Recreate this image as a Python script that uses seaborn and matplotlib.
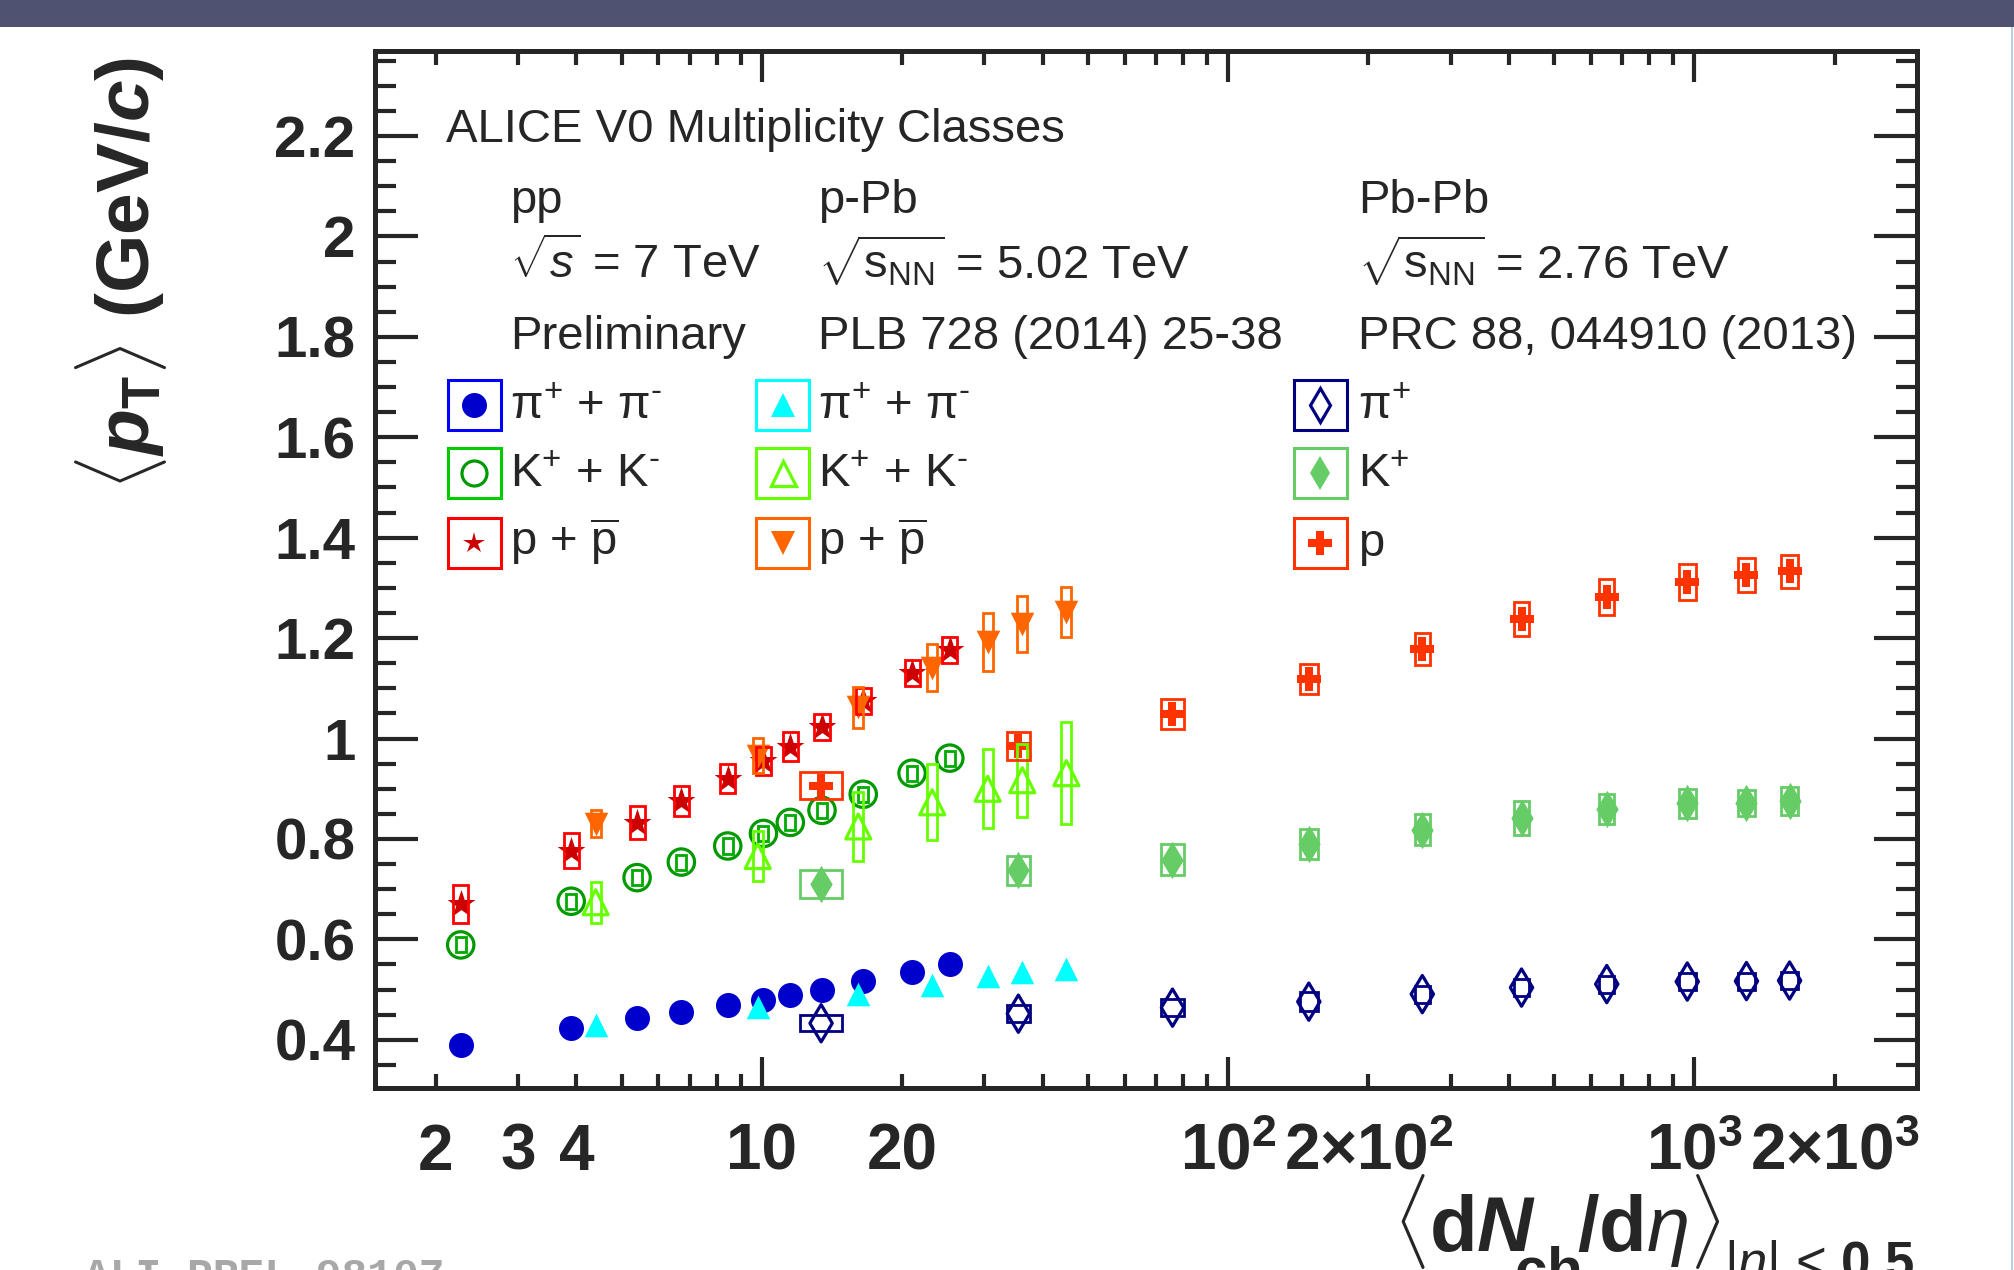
import numpy as np
import matplotlib
matplotlib.use("Agg")
import matplotlib.pyplot as plt
import matplotlib.transforms as mtransforms
from matplotlib.markers import MarkerStyle
from matplotlib.patches import Rectangle
from matplotlib.ticker import FixedLocator, NullFormatter
import seaborn as sns

# pp, sqrt(s) = 7 TeV (preliminary), V0 multiplicity classes
pp_dndeta = [2.26, 3.90, 5.40, 6.72, 8.45, 10.08, 11.51, 13.46, 16.5, 21.0, 25.3]
pp_pi = [0.390, 0.423, 0.443, 0.455, 0.470, 0.480, 0.490, 0.500, 0.518, 0.535, 0.550]
pp_k = [0.589, 0.676, 0.723, 0.754, 0.786, 0.811, 0.833, 0.857, 0.889, 0.931, 0.961]
pp_k_sys = 0.015
pp_p = [0.670, 0.777, 0.832, 0.876, 0.920, 0.955, 0.984, 1.023, 1.074, 1.131, 1.177]
pp_p_sys = [0.038, 0.034, 0.033, 0.030, 0.029, 0.028, 0.029, 0.026, 0.026, 0.026, 0.026]

# p-Pb, sqrt(sNN) = 5.02 TeV
ppb_dndeta = [4.4, 9.8, 16.1, 23.2, 30.5, 36.2, 45.0]
ppb_pi = [0.430, 0.465, 0.491, 0.510, 0.527, 0.535, 0.542]
ppb_k = [0.674, 0.766, 0.825, 0.873, 0.900, 0.917, 0.931]
ppb_k_sys = [0.041, 0.049, 0.068, 0.076, 0.079, 0.073, 0.101]
ppb_p = [0.830, 0.966, 1.062, 1.141, 1.193, 1.228, 1.252]
ppb_p_sys = [0.027, 0.035, 0.040, 0.047, 0.058, 0.056, 0.049]

# Pb-Pb, sqrt(sNN) = 2.76 TeV
pbpb_dndeta = [13.4, 35.5, 76.0, 149.0, 261.0, 426.0, 649.0, 966.0, 1294.0, 1601.0]
pbpb_dndeta_err = [0.11, 0.06, 0.06, 0.045, 0.038, 0.038, 0.038, 0.042, 0.042, 0.042]
pbpb_pi = [0.433, 0.452, 0.464, 0.476, 0.491, 0.504, 0.511, 0.516, 0.517, 0.518]
pbpb_pi_sys = [0.016, 0.017, 0.017, 0.019, 0.017, 0.017, 0.017, 0.017, 0.017, 0.017]
pbpb_k = [0.710, 0.738, 0.759, 0.790, 0.818, 0.842, 0.860, 0.871, 0.872, 0.876]
pbpb_k_sys = [0.028, 0.029, 0.030, 0.030, 0.031, 0.034, 0.030, 0.029, 0.026, 0.028]
pbpb_p = [0.906, 0.986, 1.049, 1.118, 1.178, 1.238, 1.282, 1.312, 1.325, 1.333]
pbpb_p_sys = [0.027, 0.028, 0.030, 0.030, 0.032, 0.034, 0.035, 0.036, 0.034, 0.033]

y_major = [0.4, 0.6, 0.8, 1.0, 1.2, 1.4, 1.6, 1.8, 2.0, 2.2]
y_labels = ["0.4", "0.6", "0.8", "1", "1.2", "1.4", "1.6", "1.8", "2", "2.2"]
x_label_pos = [2, 3, 4, 10, 20, 100, 200, 1000, 2000]
x_label_txt = ["2", "3", "4", "10", "20", r"$\mathbf{10^{2}}$", r"$\mathbf{2{\times}10^{2}}$",
               r"$\mathbf{10^{3}}$", r"$\mathbf{2{\times}10^{3}}$"]

sns.set_style("ticks")
plt.rcParams["font.family"] = ["Liberation Sans", "DejaVu Sans"]
plt.rcParams["mathtext.fontset"] = "custom"
plt.rcParams["mathtext.rm"] = "Liberation Sans"
plt.rcParams["mathtext.it"] = "Liberation Sans:italic"
plt.rcParams["mathtext.bf"] = "Liberation Sans:bold"
plt.rcParams["mathtext.bfit"] = "Liberation Sans:italic:bold"
plt.rcParams["mathtext.sf"] = "Liberation Sans"

W, H = 2014, 1270
fig = plt.figure(figsize=(W / 100, H / 100), dpi=100)
ax = fig.add_axes([0.1862, 0.1433, 0.7655, 0.8168])
ax.set_xscale("log")


def sys_boxes(x, y, dy, rel_w, color, lw=2.0):
    dy = np.broadcast_to(dy, len(x))
    rel_w = np.broadcast_to(rel_w, len(x))
    for xi, yi, di, wi in zip(x, y, dy, rel_w):
        lo, hi = xi / (1 + wi), xi * (1 + wi)
        ax.add_patch(Rectangle((lo, yi - di), hi - lo, 2 * di, fill=False,
                               edgecolor=color, linewidth=lw, zorder=4))


def points(x, y, marker, ms, color, lw=0.0, z=3):
    kw = dict(x=x, y=y, marker=marker, s=ms ** 2, color=color, linewidth=lw,
              ax=ax, zorder=z, legend=False)
    if not isinstance(marker, MarkerStyle):
        kw["edgecolor"] = color
    sns.scatterplot(**kw)


def open_m(m):
    return MarkerStyle(m, fillstyle="none")


# pp
points(pp_dndeta, pp_pi, "o", 18, "#0000cc")
points(pp_dndeta, pp_k, open_m("o"), 19, "#009900", lw=2.3)
sys_boxes(pp_dndeta, pp_k, pp_k_sys, 0.025, "#00aa00")
points(pp_dndeta, pp_p, "*", 21, "#cc0000")
sys_boxes(pp_dndeta, pp_p, pp_p_sys, 0.038, "#ff0000")

# p-Pb
points(ppb_dndeta, ppb_pi, "^", 17, "#00ffff")
points(ppb_dndeta, ppb_k, open_m("^"), 18, "#66ff00", lw=2.3)
sys_boxes(ppb_dndeta, ppb_k, ppb_k_sys, 0.025, "#66ff00")
points(ppb_dndeta, ppb_p, "v", 17, "#ff6600")
sys_boxes(ppb_dndeta, ppb_p, ppb_p_sys, 0.025, "#ff6600")

# Pb-Pb
points(pbpb_dndeta, pbpb_pi, open_m("d"), 19, "#000080", lw=2.3)
sys_boxes(pbpb_dndeta, pbpb_pi, pbpb_pi_sys, pbpb_dndeta_err, "#000080")
points(pbpb_dndeta, pbpb_k, "d", 19, "#66cc66")
sys_boxes(pbpb_dndeta, pbpb_k, pbpb_k_sys, pbpb_dndeta_err, "#66cc66")
points(pbpb_dndeta, pbpb_p, "P", 17, "#ff3300")
sys_boxes(pbpb_dndeta, pbpb_p, pbpb_p_sys, pbpb_dndeta_err, "#ff3300")

# axes
ax.set_xlim(1.48, 3000)
ax.set_ylim(0.304, 2.37)
ax.set_xlabel("")
ax.set_ylabel("")
for s in ax.spines.values():
    s.set_linewidth(3.6)
    s.set_visible(True)

ax.xaxis.set_major_locator(FixedLocator([10, 100, 1000]))
ax.xaxis.set_minor_locator(FixedLocator([2, 3, 4, 5, 6, 7, 8, 9, 20, 30, 40, 50, 60, 70, 80, 90,
                                         200, 300, 400, 500, 600, 700, 800, 900, 2000]))
ax.xaxis.set_major_formatter(NullFormatter())
ax.xaxis.set_minor_formatter(NullFormatter())
y_minor = [0.30, 0.35, 0.45, 0.50, 0.55, 0.65, 0.70, 0.75, 0.85, 0.90, 0.95, 1.05, 1.10, 1.15,
           1.25, 1.30, 1.35, 1.45, 1.50, 1.55, 1.65, 1.70, 1.75, 1.85, 1.90, 1.95, 2.05, 2.10,
           2.15, 2.25, 2.30, 2.35]
ax.yaxis.set_major_locator(FixedLocator(y_major))
ax.yaxis.set_minor_locator(FixedLocator(y_minor))
ax.set_yticklabels(y_labels, fontsize=42, fontweight="bold")

ax.tick_params(axis="x", which="major", direction="in", length=22, width=3,
               top=True, bottom=True)
ax.tick_params(axis="x", which="minor", direction="in", length=10, width=3,
               top=True, bottom=True)
ax.tick_params(axis="y", which="major", direction="in", length=31, width=3,
               left=True, right=True, pad=14)
ax.tick_params(axis="y", which="minor", direction="in", length=15, width=3,
               left=True, right=True)

trans = mtransforms.blended_transform_factory(ax.transData, ax.transAxes)
for v, t in zip(x_label_pos, x_label_txt):
    ax.text(v, -0.079, t, transform=trans, ha="center", va="baseline",
            fontsize=46, fontweight="bold")

ax.text(-0.196, 0.994, r"$\langle\mathbfit{p}_{\mathbf{T}}\rangle$ (GeV/$\mathbfit{c}$)",
        transform=ax.transAxes, rotation=90, ha="left", va="top",
        fontsize=54, fontweight="bold")

# x-axis title, built from pieces so the subscripts sit low as in ROOT
renderer = fig.canvas.get_renderer()
pieces = [(r"$\langle$", 56, 1251, "baseline", 4),
          (r"$\mathbf{d}\mathbfit{N}$", 56, 1251, "baseline", -22),
          (r"$\mathbf{ch}$", 42, 1246, "top", -4),
          (r"$\mathbf{/d}\eta\rangle$", 56, 1251, "baseline", 4),
          (r"$|\eta|$ < $\mathbf{0.5}$", 38, 1238, "top", 0)]
texts, cursor = [], 0.0
for s, fs, ypx, va, gap in pieces:
    t = fig.text(cursor / W, 1 - ypx / H, s, fontsize=fs, va=va, ha="left")
    w = t.get_window_extent(renderer).width
    texts.append((t, cursor))
    cursor += w + gap
shift = 1915 - (cursor - pieces[-1][4])
for t, x0 in texts:
    t.set_x((x0 + shift) / W)

# header text
ts = 34
ax.text(0.0459, 0.9123, "ALICE V0 Multiplicity Classes", transform=ax.transAxes,
        fontsize=ts, va="baseline")
cols = [0.0876, 0.2876, 0.6376]
rows = [0.8433, 0.7803, 0.7124]
header = [["pp", r"$\sqrt{s}$ = 7 TeV", "Preliminary"],
          ["p-Pb", r"$\sqrt{\mathrm{s}_{\mathrm{NN}}}$ = 5.02 TeV", "PLB 728 (2014) 25-38"],
          ["Pb-Pb", r"$\sqrt{\mathrm{s}_{\mathrm{NN}}}$ = 2.76 TeV", "PRC 88, 044910 (2013)"]]
for cx, lines in zip(cols, header):
    for ry, line in zip(rows, lines):
        ax.text(cx, ry, line, transform=ax.transAxes, fontsize=ts, va="baseline")

# legend
leg_text = [[r"$\mathrm{\pi}^{+}$ + $\mathrm{\pi}^{‐}$", r"K$^{+}$ + K$^{‐}$", r"p + $\overline{\mathrm{p}}$"],
            [r"$\mathrm{\pi}^{+}$ + $\mathrm{\pi}^{‐}$", r"K$^{+}$ + K$^{‐}$", r"p + $\overline{\mathrm{p}}$"],
            [r"$\mathrm{\pi}^{+}$", r"K$^{+}$", "p"]]
leg_box = [["#0000ff", "#00cc00", "#ff0000"],
           ["#00ffff", "#66ff00", "#ff6600"],
           ["#000080", "#66cc66", "#ff3300"]]
leg_mark = [[("o", "#0000cc", 18, True), ("o", "#009900", 18, False), ("*", "#cc0000", 16, True)],
            [("^", "#00ffff", 17, True), ("^", "#66ff00", 18, False), ("v", "#ff6600", 17, True)],
            [("d", "#000080", 17, False), ("d", "#66cc66", 17, True), ("P", "#ff3300", 17, True)]]
box_cx = [0.0645, 0.2645, 0.6130]
box_cy = [0.6584, 0.5929, 0.5254]
text_y = [0.6449, 0.5794, 0.5129]
bw, bh = 0.0344, 0.0482
for ci in range(3):
    for ri in range(3):
        ax.add_patch(Rectangle((box_cx[ci] - bw / 2, box_cy[ri] - bh / 2), bw, bh,
                               transform=ax.transAxes, fill=False,
                               edgecolor=leg_box[ci][ri], linewidth=2.2, zorder=5))
        m, c, ms, filled = leg_mark[ci][ri]
        ax.plot([box_cx[ci]], [box_cy[ri]], marker=m, markersize=ms,
                color=c, markerfacecolor=c if filled else "none",
                markeredgewidth=0 if filled else 2.3,
                transform=ax.transAxes, zorder=6, clip_on=False)
        ax.text(cols[ci], text_y[ri], leg_text[ci][ri], transform=ax.transAxes,
                fontsize=ts, va="baseline")

# page decorations
fig.patches.append(Rectangle((0, 1 - 27 / H), 1, 27 / H, transform=fig.transFigure,
                             facecolor="#4f5371", edgecolor="none", zorder=0))
fig.patches.append(Rectangle((2010.5 / W, 0), 2.5 / W, 1 - 27 / H,
                             transform=fig.transFigure, facecolor="#b5cfe3",
                             edgecolor="none", zorder=0))
fig.text(83.5 / W, -0.014, "ALI-PREL-98107", fontsize=31, color="#a8a8a8",
         fontweight="bold", family="Liberation Mono", va="baseline")

fig.savefig("out.png", dpi=100)
